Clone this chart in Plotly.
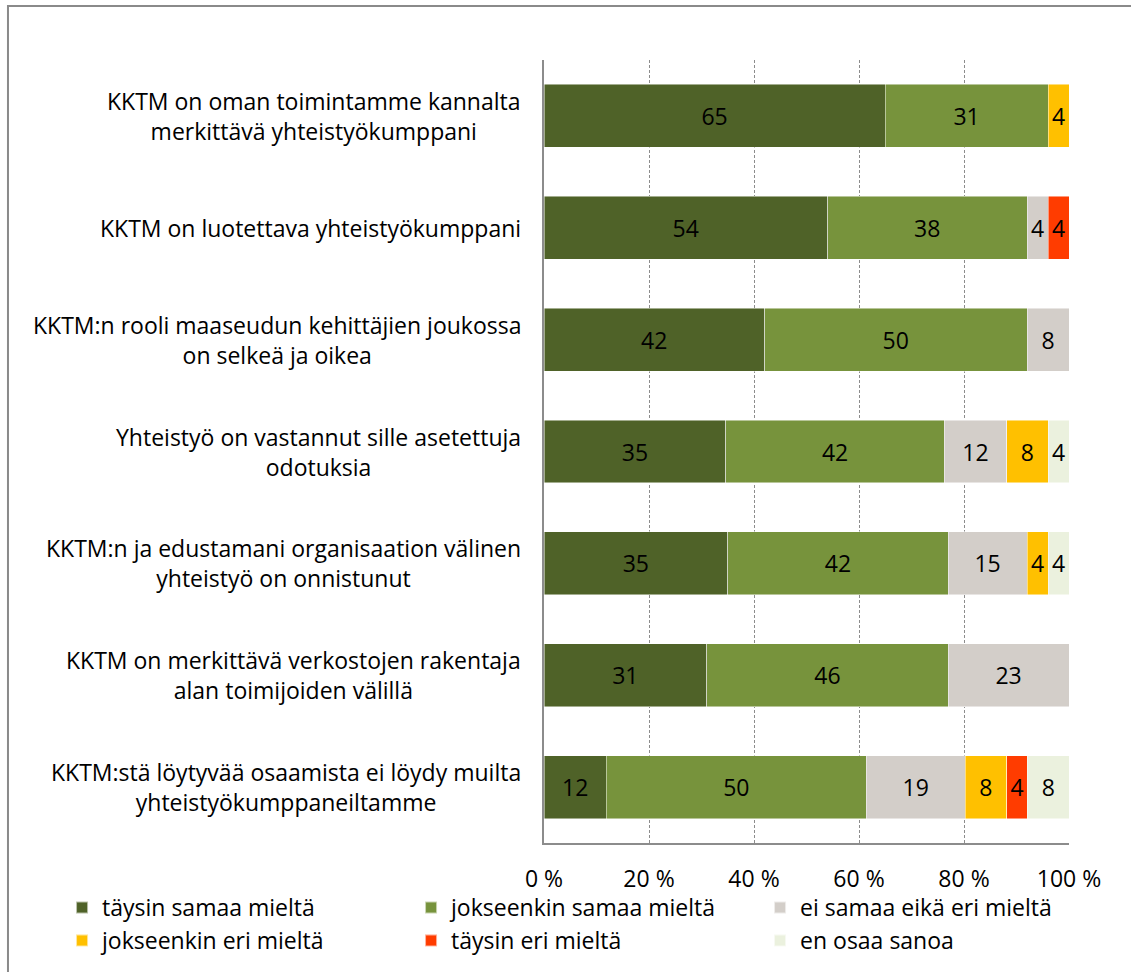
import plotly.graph_objects as go

categories = [
    "KKTM on oman toimintamme kannalta<br>merkittävä yhteistyökumppani",
    "KKTM on luotettava yhteistyökumppani",
    "KKTM:n rooli maaseudun kehittäjien joukossa<br>on selkeä ja oikea",
    "Yhteistyö on vastannut sille asetettuja<br>odotuksia",
    "KKTM:n ja edustamani organisaation välinen<br>yhteistyö on onnistunut",
    "KKTM on merkittävä verkostojen rakentaja<br>alan toimijoiden välillä",
    "KKTM:stä löytyvää osaamista ei löydy muilta<br>yhteistyökumppaneiltamme",
]
series_names = [
    "täysin samaa mieltä",
    "jokseenkin samaa mieltä",
    "ei samaa eikä eri mieltä",
    "jokseenkin eri mieltä",
    "täysin eri mieltä",
    "en osaa sanoa",
]
taysin_samaa = [65, 54, 42, 35, 35, 31, 12]
jokseenkin_samaa = [31, 38, 50, 42, 42, 46, 50]
ei_samaa_eika_eri = [0, 4, 8, 12, 15, 23, 19]
jokseenkin_eri = [4, 0, 0, 8, 4, 0, 8]
taysin_eri = [0, 4, 0, 0, 0, 0, 4]
en_osaa = [0, 0, 0, 4, 4, 0, 8]
series_values = [taysin_samaa, jokseenkin_samaa, ei_samaa_eika_eri,
                 jokseenkin_eri, taysin_eri, en_osaa]
colors = ["#4F6228", "#77933C", "#D3CEC9", "#FFC000", "#FF3C00", "#EBF1DE"]
tick_vals = [0, 20, 40, 60, 80, 100]
tick_text = ["0 %", "20 %", "40 %", "60 %", "80 %", "100 %"]

FONT = "Open Sans"
FS = 23
fig = go.Figure()
for name, vals, col in zip(series_names, series_values, colors):
    fig.add_trace(go.Bar(
        y=categories, x=vals, name=name, orientation="h",
        marker=dict(color=col, line=dict(color="rgba(255,255,255,0.6)", width=0.8)),
        text=[str(v) if v > 0 else "" for v in vals],
        texttemplate="%{text}", textposition="inside", insidetextanchor="middle",
        textfont=dict(family=FONT, size=FS, color="black"),
        constraintext="none",
    ))

annotations = []
for c in categories:
    annotations.append(dict(
        x=0, xref="paper", y=c, yref="y", xanchor="right", xshift=-21,
        text=c, showarrow=False, align="center",
        font=dict(family=FONT, size=FS, color="black"),
    ))

fig.update_layout(
    width=1131, height=972,
    barmode="stack", barnorm="percent", bargap=0.437,
    paper_bgcolor="white", plot_bgcolor="white",
    margin=dict(l=544, r=62, t=60, b=129, autoexpand=False),
    font=dict(family=FONT, size=FS, color="black"),
    showlegend=True,
    legend=dict(
        orientation="h", x=-0.918, xanchor="left", y=-0.055, yanchor="top",
        entrywidth=304, entrywidthmode="pixels",
        font=dict(family=FONT, size=FS, color="black"),
        traceorder="normal", itemsizing="constant",
        tracegroupgap=0, bgcolor="rgba(0,0,0,0)",
    ),
    annotations=annotations,
    shapes=[dict(type="rect", xref="paper", yref="paper",
                 x0=-1.021, x1=1.2, y0=-0.25, y1=1.069,
                 line=dict(color="#8A8A8A", width=2), layer="below")],
)
fig.update_xaxes(
    range=[0, 100], tickvals=tick_vals, ticktext=tick_text,
    showgrid=True, gridcolor="#8C8C8C", gridwidth=1, griddash="3px,2px",
    showline=True, linecolor="#8C8C8C", linewidth=2, mirror=False,
    ticks="", ticklabelstandoff=14, zeroline=False,
    tickfont=dict(family=FONT, size=FS, color="black"),
)
fig.update_yaxes(
    autorange="reversed", showticklabels=False, showgrid=False,
    showline=True, linecolor="#8C8C8C", linewidth=2, ticks="",
)
fig.write_html("out.html", config={"displayModeBar": False},
               post_script="document.body.style.margin='0';")
